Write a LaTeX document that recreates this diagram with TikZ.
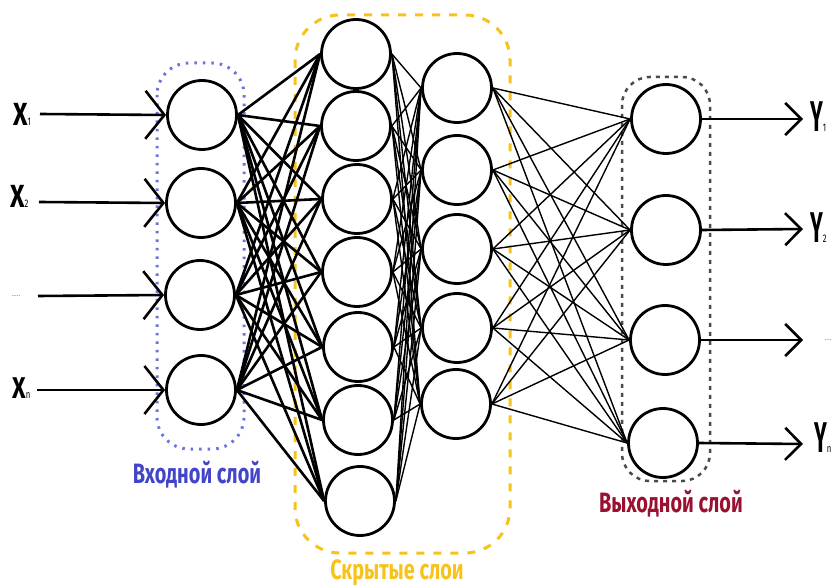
\documentclass[tikz,border=0pt]{standalone}
\usepackage{fontspec}
\setmainfont{Fira Sans}
\usetikzlibrary{arrows.meta}
\definecolor{inblue}{HTML}{4245C8}
\definecolor{dotblue}{HTML}{6E73DA}
\definecolor{hidgold}{HTML}{F7C21A}
\definecolor{outred}{HTML}{9A1030}
\definecolor{outgrey}{HTML}{4A4A4A}
\newcommand{\biglet}[3]{{\fontsize{#3}{#3}\selectfont\bfseries\scalebox{#2}[1]{#1}}}
\newcommand{\subtxt}[1]{{\fontsize{11}{11}\selectfont\scalebox{0.7}[1]{#1}}}
\newcommand{\laytxt}[1]{{\fontsize{28}{28}\selectfont\bfseries\scalebox{0.71}[1]{#1}}}
\begin{document}
\begin{tikzpicture}[x=1pt,y=-1pt,
  neuron/.style={circle,draw=black,fill=white,line width=2.8pt,minimum size=69pt,inner sep=0pt},
  thickconn/.style={line width=2.6pt},
  thinconn/.style={line width=1.4pt},
  inarrow/.style={line width=2.6pt,-{Straight Barb[length=19pt,width=48pt]}},
  outarrow/.style={line width=2.6pt,-{Straight Barb[length=16pt,width=32pt]}},
  lab/.style={anchor=base west,inner sep=0pt},
  laylab/.style={anchor=base,inner sep=0pt},
  dots/.style={inner sep=0pt,text=gray,font=\fontsize{7}{7}\selectfont}
]
\useasboundingbox (0,0) rectangle (831,588);
\fill[white] (0,0) rectangle (831,588);

% group boxes
\draw[dotblue,line width=3pt,dash pattern=on 2.5pt off 6pt,rounded corners=32pt] (157,63) rectangle (244,449);
\draw[hidgold,line width=3pt,dash pattern=on 8pt off 9pt,rounded corners=45pt] (295,15) rectangle (510,553);
\draw[outgrey,line width=2.5pt,dash pattern=on 4pt off 5pt,rounded corners=28pt] (622,77) rectangle (710,481);

% neurons
\node[neuron] (i1) at (202,115) {};
\node[neuron] (i2) at (201,203) {};
\node[neuron] (i3) at (200,295) {};
\node[neuron] (i4) at (201,390) {};

\node[neuron] (h1) at (356,54) {};
\node[neuron] (h2) at (356,126) {};
\node[neuron] (h3) at (357,199) {};
\node[neuron] (h4) at (357,272) {};
\node[neuron] (h5) at (358,347) {};
\node[neuron] (h6) at (358,420) {};
\node[neuron] (h7) at (360,501) {};

\node[neuron] (g1) at (457,88) {};
\node[neuron] (g2) at (457,170) {};
\node[neuron] (g3) at (457,249) {};
\node[neuron] (g4) at (457,328) {};
\node[neuron] (g5) at (456,404) {};

\node[neuron] (o1) at (666,119) {};
\node[neuron] (o2) at (666,230) {};
\node[neuron] (o3) at (665,340) {};
\node[neuron] (o4) at (663,443) {};

% connections
\foreach \a in {1,...,4}
  \foreach \b in {1,...,7}
    \draw[thickconn] (i\a.east) -- (h\b.west);
\foreach \a in {1,...,7}
  \foreach \b in {1,...,5}
    \draw[thinconn] (h\a.east) -- (g\b.west);
\foreach \a in {1,...,5}
  \foreach \b in {1,...,4}
    \draw[thinconn] (g\a.east) -- (o\b.west);

% input arrows
\coordinate (xs1) at (40,114);
\coordinate (xs2) at (39,202);
\coordinate (xs3) at (38,296);
\coordinate (xs4) at (37,390);
\draw[inarrow] (xs1) -- (i1.west);
\draw[inarrow] (xs2) -- (i2.west);
\draw[inarrow] (xs3) -- (i3.west);
\draw[inarrow] (xs4) -- (i4.west);

% output arrows
\coordinate (ye1) at (803,119);
\coordinate (ye2) at (803,229);
\coordinate (ye3) at (803,340);
\coordinate (ye4) at (803,444);
\draw[outarrow] (o1.east) -- (ye1);
\draw[outarrow] (o2.east) -- (ye2);
\draw[outarrow] (o3.east) -- (ye3);
\draw[outarrow] (o4.east) -- (ye4);

% input labels
\node[lab] (xl1) at (13,126) {\biglet{X}{0.78}{32}\subtxt{1}};
\node[lab] (xl2) at (10,208) {\biglet{X}{0.78}{32}\subtxt{2}};
\node[dots] (xl3) at (16,296) {.....};
\node[lab] (xl4) at (12,399) {\biglet{X}{0.78}{30}\subtxt{n}};

% output labels
\node[lab] (yl1) at (810,132) {\biglet{Y}{0.5}{43}\subtxt{1}};
\node[lab] (yl2) at (810,243) {\biglet{Y}{0.5}{43}\subtxt{2}};
\node[dots] (yl3) at (828,340) {....};
\node[lab] (yl4) at (814,452) {\biglet{Y}{0.5}{43}\subtxt{n}};

% layer labels
\node[laylab,text=inblue] (lin) at (197,483) {\laytxt{Входной слой}};
\node[laylab,text=hidgold] (lhid) at (397,579) {\laytxt{Скрытые слои}};
\node[laylab,text=outred] (lout) at (671,512) {\laytxt{Выходной слой}};
\end{tikzpicture}
\end{document}
